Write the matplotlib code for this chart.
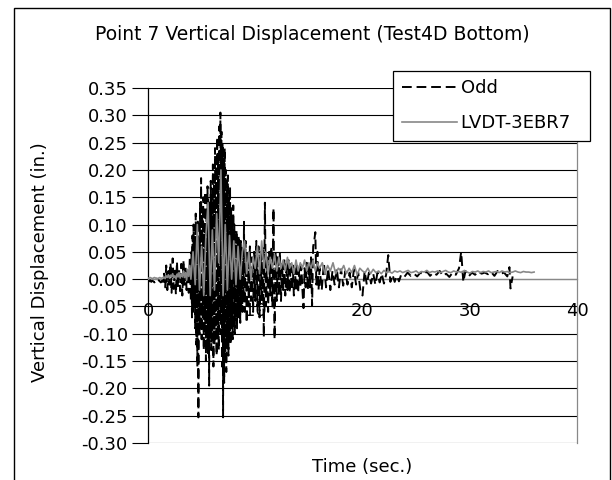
import matplotlib
matplotlib.use('Agg')
import matplotlib.pyplot as plt
from matplotlib.patches import Rectangle
from matplotlib.ticker import MultipleLocator, FormatStrFormatter

plt.rcParams['font.family'] = 'DejaVu Sans'
plt.rcParams['font.size'] = 13
plt.rcParams['axes.unicode_minus'] = False

title = 'Point 7 Vertical Displacement (Test4D Bottom)'
x_label = 'Time (sec.)'
y_label = 'Vertical Displacement (in.)'
series_names = ['Odd', 'LVDT-3EBR7']

# "Odd" series (black dashed)
odd_time = [
    0.0, 0.1, 0.2, 0.3, 0.4, 0.5, 0.6, 0.7, 0.8, 0.9,
    1.0, 1.1, 1.2, 1.3, 1.4, 1.5, 1.6, 1.7, 1.8, 1.9,
    2.0, 2.1, 2.2, 2.3, 2.4, 2.5, 2.6, 2.7, 2.8, 2.9,
    3.0, 3.1, 3.2, 3.3, 3.4, 3.5, 3.6, 3.7, 3.8, 3.9,
    4.00, 4.05, 4.10, 4.15, 4.20, 4.25, 4.30, 4.35, 4.40, 4.45,
    4.50, 4.55, 4.60, 4.65, 4.70, 4.75, 4.80, 4.85, 4.90, 4.95,
    5.00, 5.05, 5.10, 5.15, 5.20, 5.25, 5.30, 5.35, 5.40, 5.45,
    5.50, 5.55, 5.60, 5.65, 5.70, 5.75, 5.80, 5.85, 5.90, 5.95,
    6.00, 6.05, 6.10, 6.15, 6.20, 6.25, 6.30, 6.35, 6.40, 6.45,
    6.50, 6.55, 6.60, 6.65, 6.70, 6.75, 6.80, 6.85, 6.90, 6.95,
    7.00, 7.05, 7.10, 7.15, 7.20, 7.25, 7.30, 7.35, 7.40, 7.45,
    7.50, 7.55, 7.60, 7.65, 7.70, 7.75, 7.80, 7.85, 7.90, 7.95,
    8.00, 8.05, 8.10, 8.15, 8.20, 8.25, 8.30, 8.35, 8.40, 8.45,
    8.50, 8.55, 8.60, 8.65, 8.70, 8.75, 8.80, 8.85, 8.90, 8.95,
    9.0, 9.1, 9.2, 9.3, 9.4, 9.5, 9.6, 9.7, 9.8, 9.9,
    10.0, 10.1, 10.2, 10.3, 10.4, 10.5, 10.6, 10.7, 10.8, 10.9,
    11.0, 11.1, 11.2, 11.3, 11.4, 11.5, 11.6, 11.7, 11.8, 11.9,
    12.0, 12.1, 12.2, 12.3, 12.4, 12.5, 12.6, 12.7, 12.8, 12.9,
    13.0, 13.1, 13.2, 13.3, 13.4, 13.5, 13.6, 13.7, 13.8, 13.9,
    14.0, 14.1, 14.2, 14.3, 14.4, 14.5, 14.6, 14.7, 14.8, 14.9,
    15.0, 15.1, 15.2, 15.3, 15.4, 15.5, 15.6, 15.7, 15.8, 15.9,
    16.0, 16.2, 16.4, 16.6, 16.8, 17.0, 17.2, 17.4, 17.6, 17.8,
    18.0, 18.2, 18.4, 18.6, 18.8, 19.0, 19.2, 19.4, 19.6, 19.8,
    20.0, 20.2, 20.4, 20.6, 20.8, 21.0, 21.2, 21.4, 21.6, 21.8,
    22.0, 22.2, 22.4, 22.6, 22.8, 23.0, 23.2, 23.4,
    23.6, 23.9, 24.2, 24.5, 24.8, 25.1, 25.4, 25.7, 26.0, 26.3,
    26.6, 26.9, 27.2, 27.5, 27.8, 28.1, 28.4, 28.7, 29.0, 29.2,
    29.4, 29.6, 29.9, 30.2, 30.5, 30.8, 31.1, 31.4, 31.7, 32.0,
    32.3, 32.6, 32.9, 33.2, 33.5, 33.7, 33.8, 34.0,
]
odd_disp = [
    -0.003, -0.004, -0.002, -0.005, -0.003, -0.004, -0.006, -0.003, -0.004, -0.005,
    -0.002, -0.004, -0.006, -0.003, -0.005, 0.010, -0.015, 0.025, -0.020, 0.015,
    -0.010, 0.030, -0.025, 0.038, -0.018, 0.020, -0.028, 0.032, -0.015, 0.018,
    -0.022, 0.028, -0.030, 0.035, -0.012, 0.022, -0.020, 0.015, -0.025, 0.040,
    -0.040, 0.050, -0.070, 0.080, -0.060, 0.100, -0.050, 0.070, -0.090, 0.120,
    -0.120, 0.090, -0.160, 0.110, -0.253, 0.060, -0.100, 0.140, -0.080, 0.185,
    -0.110, 0.120, -0.070, 0.150, -0.130, 0.100, -0.090, 0.160, -0.150, 0.130,
    -0.120, 0.170, -0.140, 0.110, -0.195, 0.140, -0.100, 0.180, -0.130, 0.150,
    -0.110, 0.210, -0.160, 0.190, -0.120, 0.240, -0.090, 0.220, -0.140, 0.260,
    -0.110, 0.230, -0.130, 0.280, -0.080, 0.305, -0.100, 0.270, -0.160, 0.250,
    -0.253, 0.220, -0.190, 0.240, -0.150, 0.200, -0.170, 0.180, -0.120, 0.190,
    -0.140, 0.150, -0.100, 0.170, -0.120, 0.130, -0.090, 0.110, -0.110, 0.135,
    -0.080, 0.100, -0.100, 0.080, -0.070, 0.090, -0.090, 0.070, -0.060, 0.080,
    -0.070, 0.060, -0.080, 0.070, -0.050, 0.060, -0.060, 0.050, -0.040, 0.105,
    -0.060, 0.070, -0.080, 0.050, -0.050, 0.060, -0.040, 0.040, -0.060, 0.050,
    -0.040, 0.070, -0.050, 0.060, -0.070, 0.050, -0.040, 0.060, -0.106, 0.140,
    -0.050, 0.040, -0.060, 0.050, -0.030, 0.060, -0.050, 0.130, -0.110, 0.050,
    -0.040, 0.040, -0.030, 0.050, -0.040, 0.030, -0.020, 0.040, -0.030, 0.030,
    -0.020, 0.035, -0.025, 0.030, -0.020, 0.025, -0.030, 0.020, -0.020, 0.030,
    -0.025, 0.020, -0.015, 0.025, -0.020, -0.053, 0.020, -0.015, 0.030, -0.020,
    0.025, -0.015, 0.040, -0.048, 0.060, 0.070, 0.086, -0.010, 0.050, -0.020,
    0.020, -0.020, 0.030, -0.015, 0.020, -0.020, 0.015, -0.010, 0.020, -0.015,
    0.018, -0.012, 0.015, -0.010, 0.012, -0.015, 0.018, -0.010, 0.012, -0.020,
    -0.030, 0.015, -0.010, 0.012, -0.008, 0.010, -0.010, 0.012, -0.006, 0.010,
    -0.008, 0.008, 0.044, -0.005, 0.008, -0.005, 0.006, -0.004,
    0.008, 0.004, 0.012, 0.006, 0.010, 0.005, 0.012, 0.008, 0.014, 0.006,
    0.012, 0.008, 0.015, 0.006, 0.010, 0.004, 0.012, 0.008, 0.020, 0.050,
    -0.005, 0.015, 0.005, 0.012, 0.008, 0.014, 0.010, 0.012, 0.009, 0.013,
    0.006, 0.015, 0.010, 0.012, 0.005, 0.022, -0.017, 0.005,
]

# "LVDT-3EBR7" series (grey solid)
lvdt_time = [
    0.0, 0.1, 0.2, 0.3, 0.4, 0.5, 0.6, 0.7, 0.8, 0.9,
    1.0, 1.1, 1.2, 1.3, 1.4, 1.5, 1.6, 1.7, 1.8, 1.9,
    2.0, 2.1, 2.2, 2.3, 2.4, 2.5, 2.6, 2.7, 2.8, 2.9,
    3.0, 3.1, 3.2, 3.3, 3.4, 3.5, 3.6, 3.7, 3.8, 3.9,
    4.0, 4.2, 4.4, 4.6, 4.8, 5.0, 5.2, 5.4, 5.6, 5.8,
    6.0, 6.2, 6.4, 6.6, 6.8, 7.0, 7.2, 7.4, 7.6, 7.8,
    8.0, 8.2, 8.4, 8.6, 8.8, 9.0, 9.2, 9.4, 9.6, 9.8,
    10.0, 10.2, 10.4, 10.6, 10.8, 11.0, 11.2, 11.4, 11.6, 11.8,
    12.0, 12.2, 12.4, 12.6, 12.8, 13.0, 13.2, 13.4, 13.6, 13.8,
    14.0, 14.2, 14.4, 14.6, 14.8, 15.0, 15.2, 15.4, 15.6, 15.8,
    16.0, 16.25, 16.5, 16.75, 17.0, 17.25, 17.5, 17.75, 18.0, 18.25,
    18.5, 18.75, 19.0, 19.25, 19.5, 19.75, 20.0, 20.25, 20.5, 20.75,
    21.0, 21.25, 21.5, 21.75, 22.0, 22.25, 22.5, 22.75, 23.0, 23.25,
    23.5, 23.75, 24.0, 24.25, 24.5, 24.75, 25.0, 25.25, 25.5, 25.75,
    26.0, 26.25, 26.5, 26.75, 27.0, 27.25, 27.5, 27.75, 28.0, 28.25,
    28.5, 28.75, 29.0, 29.25, 29.5, 29.75, 30.0, 30.25, 30.5, 30.75,
    31.0, 31.25, 31.5, 31.75, 32.0, 32.25, 32.5, 32.75, 33.0, 33.25,
    33.5, 33.75, 34.0, 34.25, 34.5, 34.75, 35.0, 35.25, 35.5, 35.75,
    36.0,
]
lvdt_disp = [
    0.002, 0.002, 0.003, 0.002, 0.001, 0.002, 0.003, 0.002, 0.002, 0.001,
    0.002, 0.003, 0.002, 0.002, 0.003, 0.004, 0.001, 0.006, 0.003, 0.008,
    0.002, 0.007, 0.004, 0.010, 0.003, 0.006, 0.001, 0.009, 0.004, 0.012,
    0.002, 0.010, 0.005, 0.015, 0.003, 0.012, -0.002, 0.018, 0.005, 0.025,
    0.000, 0.050, -0.010, 0.100, -0.020, 0.060, -0.030, 0.080, 0.140, -0.030,
    0.090, -0.020, 0.120, 0.030, 0.200, -0.030, 0.100, -0.020, 0.080, 0.000,
    0.070, -0.010, 0.060, 0.000, 0.050, 0.070, 0.010, 0.050, 0.000, 0.040,
    0.020, 0.060, 0.010, 0.070, 0.020, 0.050, 0.010, 0.040, 0.020, 0.045,
    0.015, 0.040, 0.020, 0.035, 0.015, 0.040, 0.020, 0.030, 0.010, 0.035,
    0.015, 0.030, 0.020, 0.035, 0.015, 0.030, 0.020, 0.035, 0.015, 0.030,
    0.020, 0.030, 0.010, 0.025, 0.015, 0.030, 0.010, 0.020, 0.015, 0.025,
    0.010, 0.020, 0.012, 0.025, 0.008, 0.020, 0.015, 0.012, 0.020, 0.010,
    0.018, 0.012, 0.015, 0.010, 0.016, 0.012, 0.014, 0.011, 0.015, 0.013,
    0.015, 0.012, 0.014, 0.016, 0.012, 0.013, 0.015, 0.011, 0.014, 0.013,
    0.016, 0.012, 0.014, 0.013, 0.015, 0.012, 0.014, 0.016, 0.013, 0.012,
    0.015, 0.013, 0.014, 0.012, 0.016, 0.013, 0.011, 0.014, 0.013, 0.015,
    0.012, 0.014, 0.013, 0.015, 0.012, 0.013, 0.014, 0.012, 0.015, 0.013,
    0.014, 0.012, 0.013, 0.015, 0.013, 0.012, 0.014, 0.013, 0.013, 0.012,
    0.013,
]

fig = plt.figure(figsize=(6.12, 4.8), dpi=100)
ax = fig.add_axes([148 / 612, 1 - 443 / 480, 429 / 612, 355 / 480])

ax.plot(odd_time, odd_disp, color='black', lw=1.4, dashes=(5, 2.5), label=series_names[0])
ax.plot(lvdt_time, lvdt_disp, color='#888888', lw=1.2, label=series_names[1] + '  ')

ax.set_xlim(0, 40)
ax.set_ylim(-0.30, 0.35)
ax.xaxis.set_major_locator(MultipleLocator(10))
ax.yaxis.set_major_locator(MultipleLocator(0.05))
ax.yaxis.set_major_formatter(FormatStrFormatter('%.2f'))

ax.grid(axis='y', color='black', lw=0.8)
ax.set_axisbelow(True)

ax.spines['top'].set_visible(False)
ax.spines['right'].set_color('#888888')
ax.spines['left'].set_color('black')
ax.spines['bottom'].set_position(('data', 0))
ax.spines['bottom'].set_color('#888888')
for s in ax.spines.values():
    s.set_linewidth(0.9)
    s.set_zorder(1.5)

ax.tick_params(axis='y', direction='out', length=11.5, width=0.8, pad=3, labelsize=13)
ax.tick_params(axis='x', length=0, pad=16.5, labelsize=13)

ax.set_xlabel(x_label, fontsize=13)
ax.xaxis.set_label_coords(0.5, (443 - 467) / 355)
ax.xaxis.label.set_va('center')
ax.set_ylabel(y_label, fontsize=13)
ax.yaxis.set_label_coords((40 - 148) / 429, (443 - 262) / 355)
ax.yaxis.label.set_va('center')

fig.text(312 / 612, 1 - 35 / 480, title, ha='center', va='center', fontsize=13.5)

leg = ax.legend(loc='upper right', bbox_to_anchor=(590 / 612, 1 - 71 / 480),
                bbox_transform=fig.transFigure, fancybox=False, edgecolor='black',
                framealpha=1, borderpad=0.47, labelspacing=0.94, handlelength=3.05,
                handletextpad=0.22, borderaxespad=0, fontsize=13)
leg.get_frame().set_linewidth(0.9)

# outer chart border
fig.add_artist(Rectangle((14 / 612, -0.05), (610 - 14) / 612, 1.05 - 8 / 480,
                         transform=fig.transFigure, fill=False, ec='black', lw=1))

fig.savefig('out.png', dpi=100)
